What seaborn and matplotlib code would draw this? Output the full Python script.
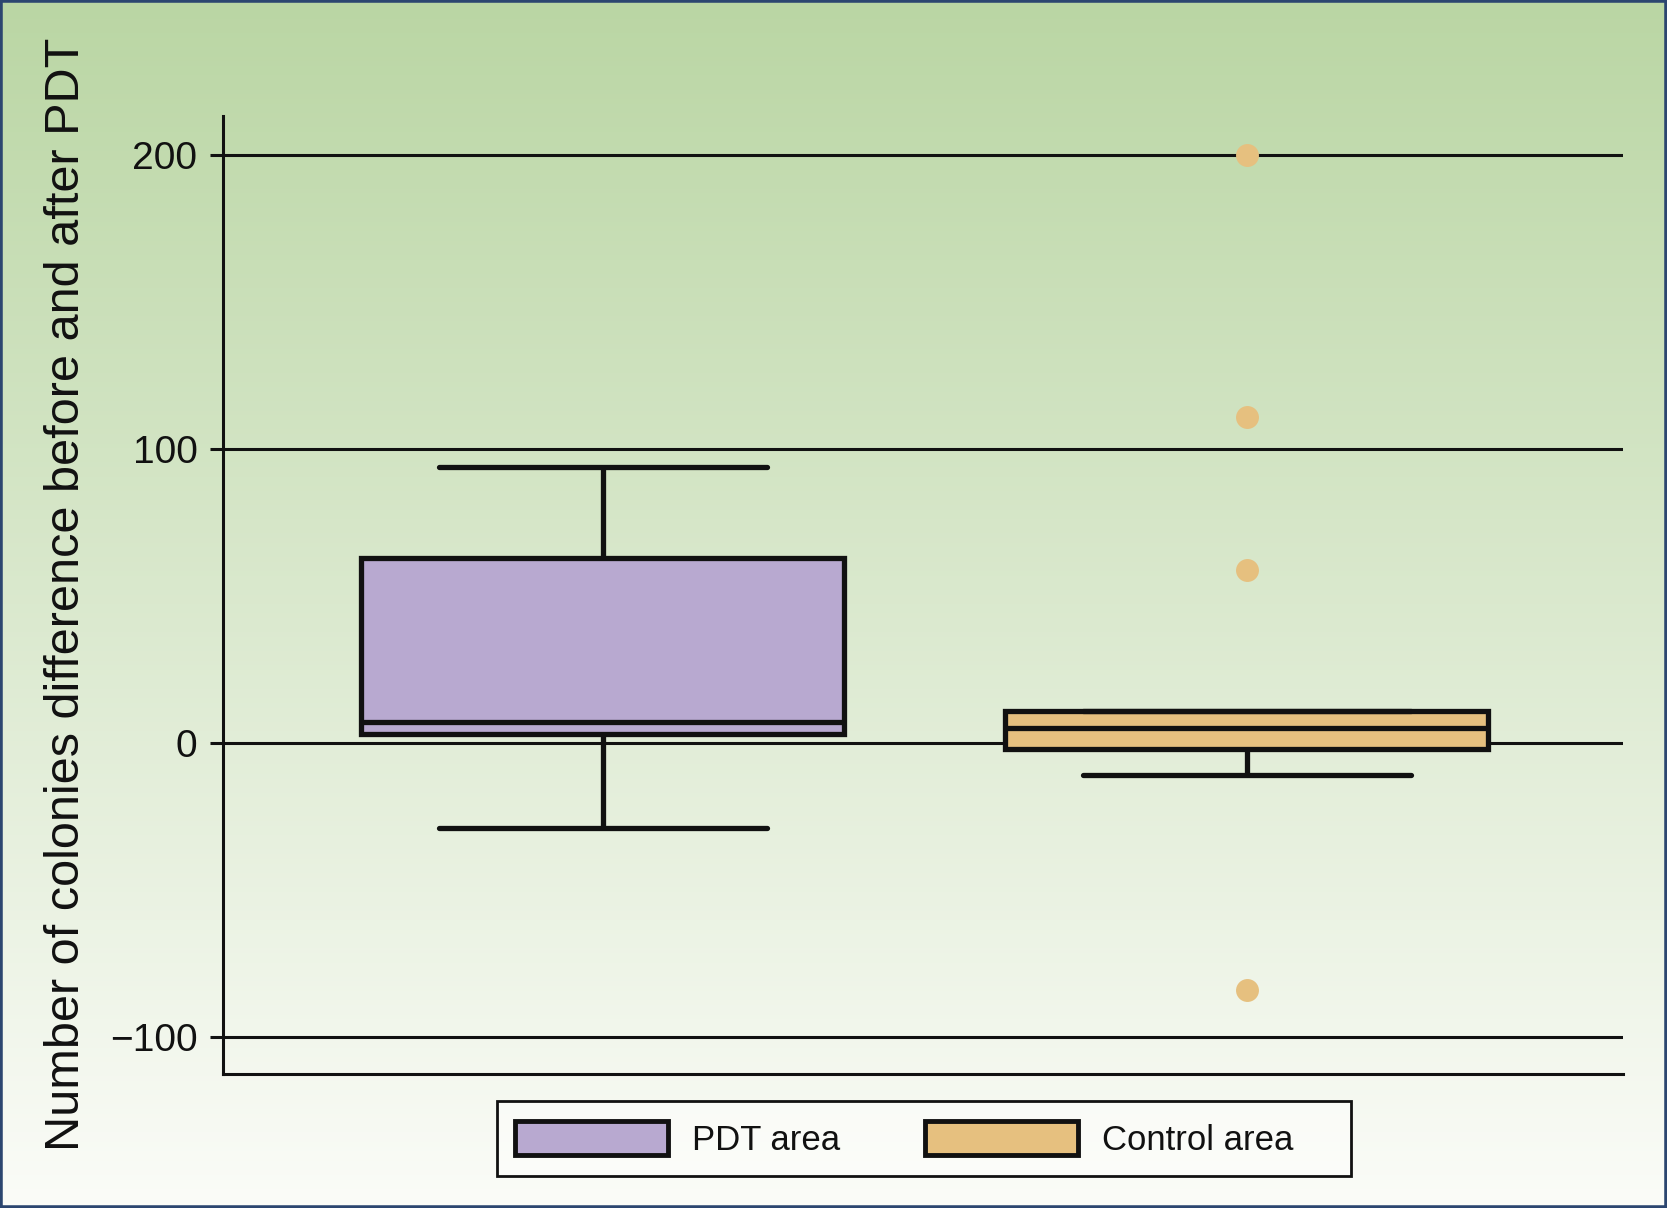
#!/usr/bin/env python3

import numpy as np
import pandas as pd
import matplotlib
matplotlib.use("Agg")
import matplotlib.pyplot as plt
import seaborn as sns
from matplotlib.patches import Patch, Rectangle

groups = ["PDT area", "Control area"]
pdt_values = [-29, 3, 7, 63, 94]
control_values = [-84, -11, -5, -2, 0, 3, 5, 7, 9, 11, 59, 111, 200]
yticks = [-100, 0, 100, 200]
ylabel = "Number of colonies difference before and after PDT"

purple = "#B8A9D0"
orange = "#E6C07F"
ink = "#111111"

df = pd.DataFrame({
    "group": [groups[0]] * len(pdt_values) + [groups[1]] * len(control_values),
    "value": pdt_values + control_values,
})

sns.set_style("white")
plt.rcParams["font.family"] = ["Liberation Sans", "DejaVu Sans"]

fig = plt.figure(figsize=(16.67, 12.08), dpi=100)

# gradient background, green at top fading to white
bg = fig.add_axes([0, 0, 1, 1], zorder=-1)
top = np.array([186, 214, 164]) / 255
bottom = np.array([251, 252, 248]) / 255
t = np.linspace(0, 1, 256)[:, None]
grad = (top * (1 - t) + bottom * t)[:, None, :]
bg.imshow(grad, aspect="auto", extent=[0, 1, 0, 1])
bg.axis("off")

ax = fig.add_axes([0.1338, 0.1109, 0.8398, 0.7931])
ax.set_facecolor("none")

sns.boxplot(
    data=df, x="group", y="value", hue="group",
    palette=[purple, orange], saturation=1, width=0.75,
    linewidth=3.8, linecolor=ink, fliersize=16.5,
    flierprops=dict(marker="o", markerfacecolor=orange,
                    markeredgecolor="none", markersize=16.5),
    legend=False, ax=ax,
)

# caps a bit wider than default
for cont in ax.containers:
    for cap in getattr(cont, "caps", []):
        xs = cap.get_xdata()
        c = (xs[0] + xs[1]) / 2
        cap.set_xdata([c - 0.255, c + 0.255])

ax.set_xlim(-0.59, 1.584)
ax.set_ylim(-112.6, 213.3)
ax.set_yticks(yticks)
ax.set_xticks([])
ax.set_xlabel("")
ax.set_ylabel("")
ax.grid(axis="y", color=ink, linewidth=2.2)
ax.set_axisbelow(True)
for s in ["top", "right"]:
    ax.spines[s].set_visible(False)
for s in ["left", "bottom"]:
    ax.spines[s].set_color(ink)
    ax.spines[s].set_linewidth(2.2)
ax.tick_params(axis="y", length=9.4, width=2.2, color=ink, pad=9,
               labelsize=28, labelcolor=ink, left=True)

fig.text(0.0397, 0.508, ylabel, rotation=90, ha="center", va="center",
         fontsize=35, color=ink)

# legend box is wider on the right than its content
fig.patches.append(Rectangle((0.2981, 0.0265), 0.5123, 0.0621,
                             transform=fig.transFigure, facecolor=(1, 1, 1, 0.45),
                             edgecolor=ink, linewidth=2.0))
handles = [Patch(facecolor=purple, edgecolor=ink, linewidth=3.5, label=groups[0]),
           Patch(facecolor=orange, edgecolor=ink, linewidth=3.5, label=groups[1])]
leg = fig.legend(handles=handles, loc="center", bbox_to_anchor=(0.5424, 0.0575),
                 ncol=2, fontsize=25, frameon=False,
                 handlelength=4.4, handleheight=1.15, handletextpad=0.7,
                 columnspacing=2.45, borderpad=0.55)
for txt in leg.get_texts():
    txt.set_color(ink)

fig.patches.append(Rectangle((0, 0), 1, 1, transform=fig.transFigure,
                             fill=False, edgecolor="#2C4670", linewidth=4))

fig.savefig("out.png", dpi=100)
